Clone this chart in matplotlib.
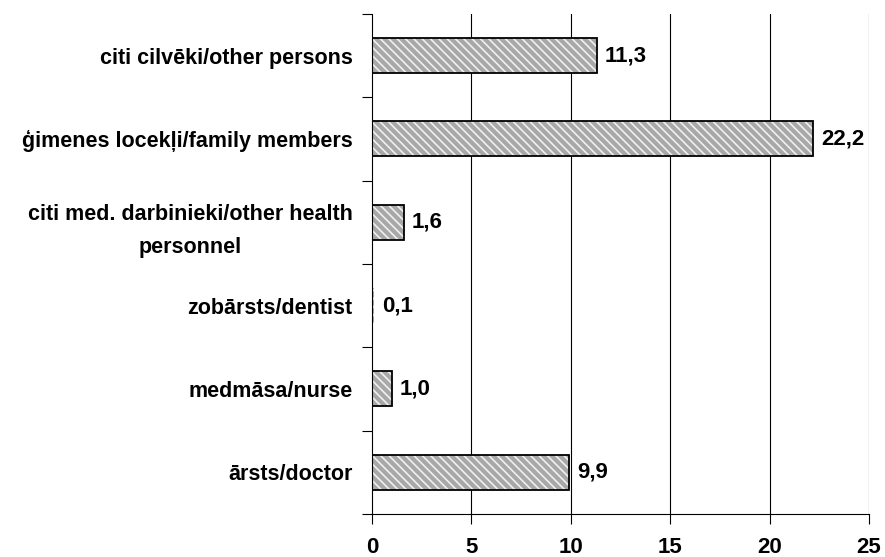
import matplotlib
matplotlib.use("Agg")
import matplotlib.pyplot as plt
import numpy as np

categories = ["ārsts/doctor", "medmāsa/nurse", "zobārsts/dentist",
              "citi med. darbinieki/other health\npersonnel",
              "ģimenes locekļi/family members", "citi cilvēki/other persons"]
values = [9.9, 1.0, 0.1, 1.6, 22.2, 11.3]
value_labels = ["9,9", "1,0", "0,1", "1,6", "22,2", "11,3"]
xticks = [0, 5, 10, 15, 20, 25]

plt.rcParams['font.family'] = ['Liberation Sans', 'DejaVu Sans']
plt.rcParams['hatch.linewidth'] = 1.2

fig = plt.figure(figsize=(8.85, 5.57), dpi=100)
ax = fig.add_axes([0.4203, 0.0772, 0.982 - 0.4203, 0.9749 - 0.0772])

y = np.arange(len(categories))
ax.barh(y, values, height=0.42, color='#a8a8a8', edgecolor='#f0f0f0',
        hatch='\\\\\\\\', linewidth=0, zorder=2)
outline_colors = ['black' if v >= 0.5 else 'none' for v in values]
ax.barh(y, values, height=0.42, facecolor='none', edgecolor=outline_colors,
        linewidth=1.3, zorder=3)

for yi, v, lab in zip(y, values, value_labels):
    ax.text(v + 0.4, yi, lab, va='center', ha='left', fontsize=16,
            fontweight='bold', zorder=4)

ax.set_xlim(0, 25)
ax.set_ylim(-0.5, len(categories) - 0.5)
ax.set_xticks(xticks)
ax.set_xticklabels([str(t) for t in xticks], fontsize=16, fontweight='bold')
ax.set_yticks(y)
ax.set_yticklabels(categories, fontsize=15.5, fontweight='bold', ha='right',
                   multialignment='center', linespacing=1.75)
ax.set_yticks(np.arange(-0.5, len(categories), 1), minor=True)
ax.tick_params(axis='y', which='major', length=0, pad=14)
ax.tick_params(axis='y', which='minor', length=7, width=0.8, direction='out')
ax.tick_params(axis='x', which='major', length=7, width=0.8, direction='out', pad=9.5)

for t in xticks[1:]:
    ax.axvline(t, color='black', linewidth=0.8, zorder=1)

ax.spines['top'].set_visible(False)
ax.spines['right'].set_visible(False)
ax.spines['left'].set_linewidth(0.8)
ax.spines['bottom'].set_linewidth(0.8)
ax.spines['left'].set_zorder(5)

fig.savefig("out.png", dpi=100)
